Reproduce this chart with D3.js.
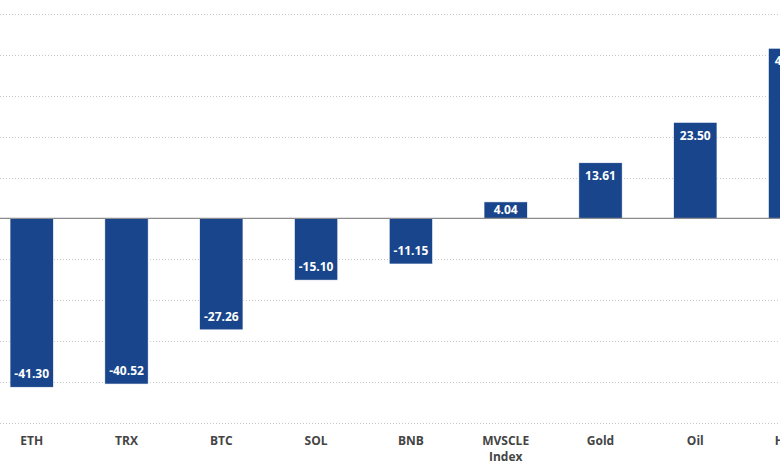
<!DOCTYPE html>
<html lang="en">
<head>
  <meta charset="utf-8">
  <script src="https://d3js.org/d3.v7.min.js"></script>
  <style>
    body { margin: 0; background: #fff; }
    text { font-family: "Open Sans", sans-serif; }
  </style>
</head>
<body>
  <div id="chart"></div>
  <script>
  const width = 780
  const height = 470

  // data
  const categories = ["ETH", "TRX", "BTC", "SOL", "BNB", "MVSCLE Index", "Gold", "Oil", "HYPE"]
  const values = [-41.30, -40.52, -27.26, -15.10, -11.15, 4.04, 13.61, 23.50, 41.62]
  const yTicks = [-50, -40, -30, -20, -10, 0, 10, 20, 30, 40, 50]

  const barColor = "#18458c"

  const svg = d3.select("#chart").append("svg")
      .attr("width", width)
      .attr("height", height)

  // the plot runs past the right edge, the last bar is cut off
  const x = d3.scaleBand()
      .domain(categories)
      .range([-15.7, 837.5])
      .paddingInner(0.543)
      .paddingOuter(0.2715)

  const y = d3.scaleLinear()
      .domain([-50, 50])
      .range([422.8, 14])

  ////////////////////////////// grid //////////////////////////////
  svg.append("g").selectAll("line")
      .data(yTicks.filter(d => d !== 0))
      .join("line")
      .attr("x1", 0).attr("x2", width)
      .attr("y1", d => Math.round(y(d)) + 0.5)
      .attr("y2", d => Math.round(y(d)) + 0.5)
      .attr("stroke", "#c8c8c8")
      .attr("stroke-width", 1)
      .attr("stroke-dasharray", "1,2")

  ////////////////////////////// bars //////////////////////////////
  const data = categories.map((c, i) => ({ cat: c, value: values[i] }))

  svg.append("g").selectAll("rect")
      .data(data)
      .join("rect")
      .attr("x", d => x(d.cat))
      .attr("width", x.bandwidth())
      .attr("y", d => y(Math.max(0, d.value)))
      .attr("height", d => Math.abs(y(d.value) - y(0)))
      .attr("fill", barColor)
      .attr("stroke", "#fff")
      .attr("stroke-width", 0.6)

  // zero line
  svg.append("line")
      .attr("x1", 0).attr("x2", width)
      .attr("y1", y(0)).attr("y2", y(0))
      .attr("stroke", "#8c8c8c")
      .attr("stroke-width", 1.2)

  ////////////////////////////// value labels //////////////////////////////
  svg.append("g").selectAll("text")
      .data(data)
      .join("text")
      .attr("x", d => x(d.cat) + x.bandwidth() / 2)
      .attr("y", d => {
        const h = Math.abs(y(d.value) - y(0))
        if (h < 26) return (y(d.value) + y(0)) / 2
        return d.value > 0 ? y(d.value) + 13 : y(d.value) - 13
      })
      .attr("dy", "0.35em")
      .attr("text-anchor", "middle")
      .attr("fill", "#fff")
      .attr("font-size", 12)
      .attr("font-weight", "bold")
      .text(d => d.value.toFixed(2))

  ////////////////////////////// category labels //////////////////////////////
  const xl = svg.append("g").selectAll("text")
      .data(categories)
      .join("text")
      .attr("x", d => x(d) + x.bandwidth() / 2)
      .attr("y", 445)
      .attr("text-anchor", "middle")
      .attr("fill", "#444")
      .attr("font-size", 12)
      .attr("font-weight", "bold")

  xl.selectAll("tspan")
      .data(d => d.split(" "))
      .join("tspan")
      .attr("x", function() { return this.parentNode.getAttribute("x") })
      .attr("dy", (d, i) => i === 0 ? 0 : 16)
      .text(d => d)
  </script>
</body>
</html>
